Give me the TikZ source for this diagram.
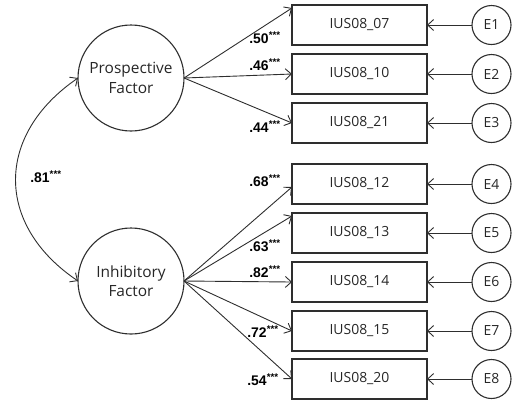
\documentclass[tikz,border=0pt]{standalone}
\usepackage{fontspec}
\setmainfont{Open Sans}
\newfontfamily\lblfont{Liberation Sans}
\usetikzlibrary{arrows.meta,calc}
\definecolor{linecol}{HTML}{2E2E2E}
\definecolor{txtcol}{HTML}{262626}
\begin{document}
\begin{tikzpicture}[x=1bp,y=-1bp,
  every node/.style={inner sep=0pt, outer sep=0pt},
  latent/.style={draw=linecol, line width=1.1bp, circle, minimum size=106bp, align=center, font=\fontsize{15.5}{19.5}\selectfont, text=txtcol},
  obs/.style={draw=linecol, line width=1.1bp, rectangle, minimum width=135bp, minimum height=40bp, font=\fontsize{14}{16}\selectfont, text=txtcol},
  err/.style={draw=linecol, line width=1.1bp, circle, minimum size=39bp, font=\fontsize{14}{16}\selectfont, text=txtcol},
  arr/.style={draw=linecol, line width=0.9bp, -{Straight Barb[length=6bp,width=11bp,line width=0.9bp]}},
  coef/.style={font=\lblfont\bfseries\fontsize{14}{16}\selectfont, text=black}
]
\useasboundingbox (0,0) rectangle (512,401);

% latent factors
\node[latent] (pf) at (131,78) {Prospective\\Factor};
\node[latent] (ib) at (131,281) {Inhibitory\\Factor};

% observed items
\node[obs] (b1) at (359.5,25) {IUS08\_07};
\node[obs] (b2) at (359.5,74) {IUS08\_10};
\node[obs] (b3) at (359.5,123) {IUS08\_21};
\node[obs] (b4) at (359.5,184) {IUS08\_12};
\node[obs] (b5) at (359.5,233) {IUS08\_13};
\node[obs] (b6) at (359.5,282) {IUS08\_14};
\node[obs] (b7) at (359.5,331) {IUS08\_15};
\node[obs] (b8) at (359.5,379) {IUS08\_20};

% errors
\node[err] (e1) at (491.5,25) {E1};
\node[err] (e2) at (491.5,74) {E2};
\node[err] (e3) at (491.5,123) {E3};
\node[err] (e4) at (491.5,184) {E4};
\node[err] (e5) at (491.5,233) {E5};
\node[err] (e6) at (491.5,282) {E6};
\node[err] (e7) at (491.5,331) {E7};
\node[err] (e8) at (491.5,379) {E8};

% loadings
\draw[arr] (pf.east) -- ([yshift=-3bp]b1.north west);
\draw[arr] (pf.east) -- (b2.west);
\draw[arr] (pf.east) -- (b3.west);
\draw[arr] (ib.east) -- ([yshift=-3bp]b4.west);
\draw[arr] (ib.east) -- ([yshift=-3bp]b5.north west);
\draw[arr] (ib.east) -- (b6.west);
\draw[arr] (ib.east) -- (b7.west);
\draw[arr] (ib.east) -- (b8.west);

% error paths
\foreach \i in {1,...,8}{
  \draw[arr] (e\i.west) -- (b\i.east);
}

% covariance
\draw[linecol, line width=0.9bp, {Straight Barb[length=6bp,width=11bp,line width=0.9bp]}-{Straight Barb[length=6bp,width=11bp,line width=0.9bp]}]
  (pf.west) .. controls (-5,135) and (-5,225) .. (ib.west);

% coefficients
\node[coef] (c1) at (265,38) {.50\textsuperscript{***}};
\node[coef] (c2) at (265,65) {.46\textsuperscript{***}};
\node[coef] (c3) at (265,127) {.44\textsuperscript{***}};
\node[coef] (c0) at (46,177) {.81\textsuperscript{***}};
\node[coef] (c4) at (265,181) {.68\textsuperscript{***}};
\node[coef] (c5) at (265,246) {.63\textsuperscript{***}};
\node[coef] (c6) at (265,272) {.82\textsuperscript{***}};
\node[coef] (c7) at (263,332) {.72\textsuperscript{***}};
\node[coef] (c8) at (263,380) {.54\textsuperscript{***}};
\end{tikzpicture}
\end{document}
